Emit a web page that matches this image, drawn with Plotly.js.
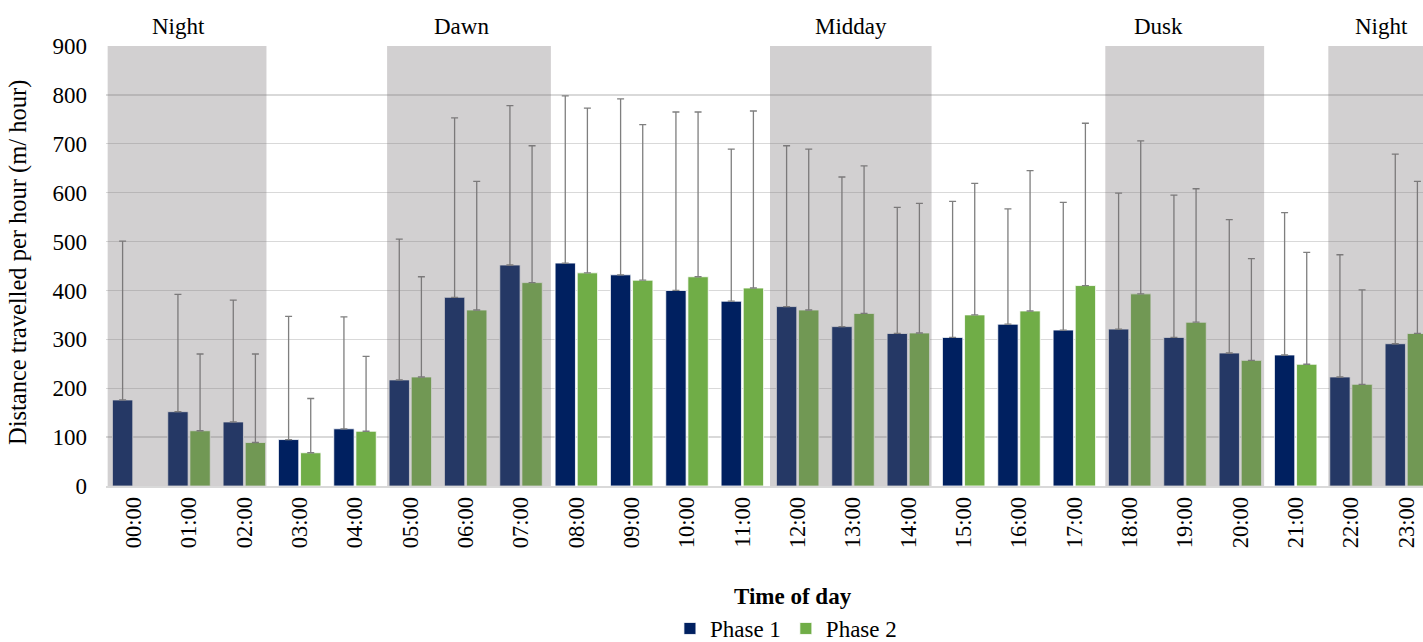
<!DOCTYPE html>
<html>
<head>
<meta charset="utf-8">
<script src="https://cdn.plot.ly/plotly-3.0.1.min.js"></script>
<style>
  html, body { margin: 0; padding: 0; overflow: hidden; background: #fff; }
  #chart { width: 1450px; height: 642px; }
</style>
</head>
<body>
<div id="chart"></div>
<script>
// ---------- data ----------
const hours = ['00:00','01:00','02:00','03:00','04:00','05:00','06:00','07:00','08:00','09:00','10:00','11:00',
               '12:00','13:00','14:00','15:00','16:00','17:00','18:00','19:00','20:00','21:00','22:00','23:00'];
const phase1 = [176,152,131,95,117,217,386,452,456,432,400,378,367,326,312,304,331,319,321,304,272,268,223,291];
const phase2 = [null,113,89,68,112,223,360,416,436,421,428,405,360,353,313,350,358,410,393,335,257,249,208,312];
const phase1Upper = [501,392,380,347,346,505,753,778,798,792,765,689,696,632,570,582,567,580,599,595,545,559,473,679];
const phase2Upper = [null,270,270,179,265,428,623,696,773,739,765,767,689,655,578,619,645,742,706,608,465,478,401,623];
const periodNames = ['Night','Dawn','Midday','Dusk','Night'];
const periodFirst = ['00:00','05:00','12:00','18:00','22:00'];
const periodLast  = ['02:00','07:00','14:00','20:00','23:00'];
const seriesNames = ['Phase 1','Phase 2'];
const yTicks = [0,100,200,300,400,500,600,700,800,900];

// ---------- layout helpers ----------
const FONT = 'Liberation Serif, Times New Roman, serif';
const FS = 23;
const err1 = phase1.map((v,i)=> (v==null||phase1Upper[i]==null) ? null : phase1Upper[i]-v);
const err2 = phase2.map((v,i)=> (v==null||phase2Upper[i]==null) ? null : phase2Upper[i]-v);
const idx = h => hours.indexOf(h);
// shading edge offsets (in category units) relative to first/last category of each period
const shadeL = [-0.47, -0.42, -0.50, -0.44, -0.41];
const shadeR = [0.40, 0.54, 0.42, 0.43, 0.70];
const labelOffset = [-0.19, -0.07, -0.04, -0.48, -0.45];

const traces = [
  { type:'bar', name:seriesNames[0], x:hours, y:phase1,
    marker:{color:'#002060', line:{color:'rgba(255,255,255,0.8)', width:1}},
    error_y:{type:'data', symmetric:false, array:err1, arrayminus:hours.map(()=>0),
             color:'#7f7f7f', thickness:1.3, width:3.5} },
  { type:'bar', name:seriesNames[1], x:hours, y:phase2,
    marker:{color:'#70AD47', line:{color:'rgba(255,255,255,0.8)', width:1}},
    error_y:{type:'data', symmetric:false, array:err2, arrayminus:hours.map(()=>0),
             color:'#7f7f7f', thickness:1.3, width:3.5} }
];

const shapes = periodNames.map((n,i)=>({
  type:'rect', xref:'x', yref:'y', layer:'above',
  x0: idx(periodFirst[i]) + shadeL[i], x1: idx(periodLast[i]) + shadeR[i],
  y0: 0, y1: i===1 ? 905 : 900,
  fillcolor:'rgba(115,109,112,0.32)', line:{width:0}
}));

const annotations = periodNames.map((n,i)=>({
  xref:'x', yref:'paper', x: (idx(periodFirst[i]) + idx(periodLast[i]))/2 + labelOffset[i] + (i===4 ? 0.5 : 0),
  y:1, yanchor:'bottom', yshift:5, showarrow:false, text:n,
  font:{family:FONT, size:FS, color:'#000'}
}));
annotations.push({
  xref:'paper', yref:'paper', x:0.517, y:-0.252, yanchor:'middle', xanchor:'center',
  showarrow:false, text:'<b>Time of day</b>', font:{family:FONT, size:FS, color:'#000'}
});
annotations.push({
  xref:'paper', yref:'paper', x:-0.0663, y:0.509, xanchor:'center', yanchor:'middle',
  textangle:-90, showarrow:false, text:'Distance travelled per hour (m/ hour)',
  font:{family:FONT, size:24.5, color:'#000'}
});

const layout = {
  width:1450, height:642,
  margin:{l:106, r:16, t:46, b:156},
  paper_bgcolor:'#fff', plot_bgcolor:'#fff',
  font:{family:FONT, size:FS, color:'#000'},
  barmode:'group', bargap:0.2, bargroupgap:0.08,
  showlegend:true,
  legend:{orientation:'h', x:0.512, xanchor:'center', yref:'container', y:0.021, yanchor:'middle',
          font:{family:FONT, size:FS, color:'#000'}, itemwidth:30, tracegroupgap:0},
  xaxis:{type:'category', tickangle:-90, tickfont:{family:FONT, size:22.5, color:'#000'},
         showgrid:false, showline:true, linecolor:'#d9d9d9', linewidth:2, ticks:'',
         range:[-0.5, 23.5], fixedrange:true, automargin:false},
  yaxis:{range:[0,900], tickvals:yTicks, ticktext:yTicks.map(String),
         tickfont:{family:FONT, size:FS, color:'#000'},
         showgrid:true, gridcolor:'#d9d9d9', gridwidth:1.3, zeroline:false,
         showline:false, ticks:'', ticklabelstandoff:18, fixedrange:true, automargin:false},
  shapes:shapes,
  annotations:annotations
};

Plotly.newPlot('chart', traces, layout, {displayModeBar:false, staticPlot:true});
</script>
</body>
</html>
